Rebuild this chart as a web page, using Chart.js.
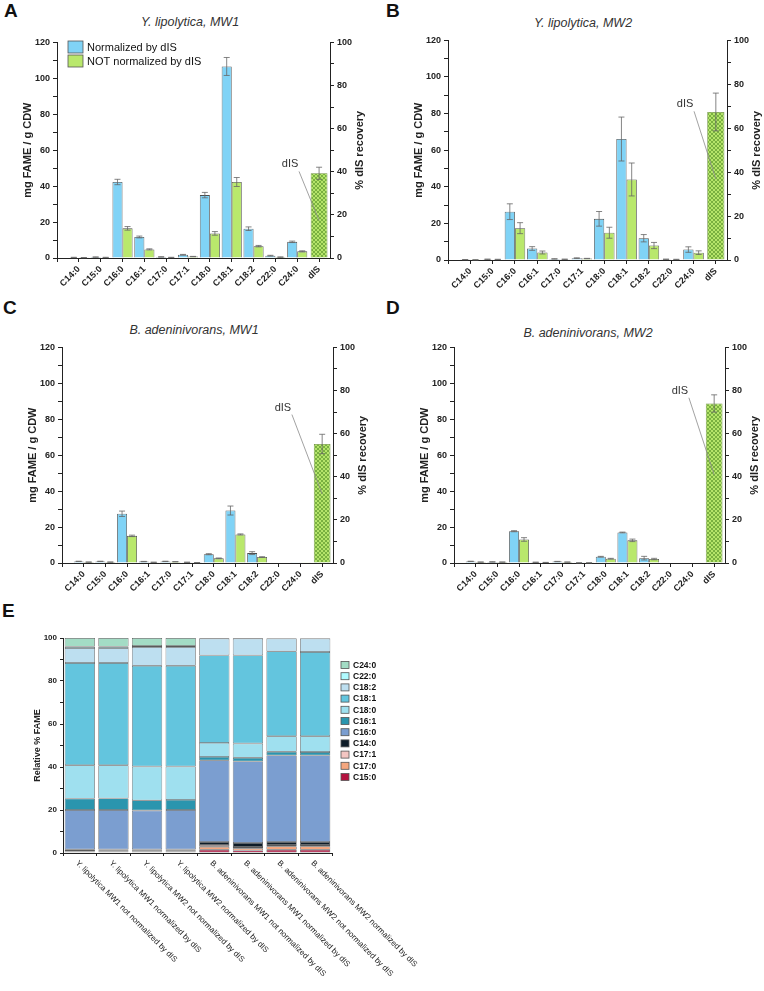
<!DOCTYPE html>
<html>
<head>
<meta charset="utf-8">
<script src="https://cdn.jsdelivr.net/npm/chart.js@4.4.0/dist/chart.umd.min.js"></script>
<style>
  body { margin: 0; background: #fff; width: 764px; height: 991px; position: relative; overflow: hidden;
         font-family: "Liberation Sans", Arial, sans-serif; }
  .letter { position: absolute; font-weight: bold; font-size: 19px; line-height: 19px; color: #111; }
  .title { position: absolute; font-style: italic; font-size: 12.5px; line-height: 14px; color: #333;
           transform: translateX(-50%); white-space: nowrap; }
  canvas { position: absolute; }
</style>
</head>
<body>
<div class="letter" style="left:4px;top:1px">A</div>
<div class="letter" style="left:386px;top:1px">B</div>
<div class="letter" style="left:3px;top:298px">C</div>
<div class="letter" style="left:386px;top:298px">D</div>
<div class="letter" style="left:2px;top:601px">E</div>

<div class="title" style="left:190px;top:15px">Y. lipolytica, MW1</div>
<div class="title" style="left:583px;top:16px">Y. lipolytica, MW2</div>
<div class="title" style="left:194px;top:323px">B. adeninivorans, MW1</div>
<div class="title" style="left:588px;top:326px">B. adeninivorans, MW2</div>

<canvas id="cA" width="378" height="262" style="left:0;top:34px"></canvas>
<canvas id="cB" width="382" height="266" style="left:382px;top:32px"></canvas>
<canvas id="cC" width="378" height="262" style="left:0;top:339px"></canvas>
<canvas id="cD" width="382" height="262" style="left:382px;top:339px"></canvas>
<canvas id="cE" width="460" height="366" style="left:0;top:625px"></canvas>

<script>
// ---- data ----
const acids = ['C14:0', 'C15:0', 'C16:0', 'C16:1', 'C17:0', 'C17:1', 'C18:0', 'C18:1', 'C18:2', 'C22:0', 'C24:0'];
const xLabels = [...acids, 'dIS'];
const seriesNames = ['Normalized by dIS', 'NOT normalized by dIS'];

// A: Y. lipolytica, MW1
const normA = [0.3, 0.5, 42.3, 11.7, 0.6, 1.8, 35.0, 106.6, 16.3, 1.3, 9.0];
const normAErr = [0.1, 0.1, 1.5, 0.5, 0.1, 0.2, 1.5, 5.0, 1.0, 0.2, 0.4];
const notNormA = [0.2, 0.3, 16.5, 4.8, 0.3, 0.8, 13.7, 42.3, 6.6, 0.5, 3.7];
const notNormAErr = [0.05, 0.1, 1.0, 0.3, 0.1, 0.1, 1.0, 2.5, 0.4, 0.1, 0.3];

// B: Y. lipolytica, MW2
const normB = [0.2, 0.4, 26.4, 6.3, 0.6, 1.0, 22.5, 66.1, 11.9, 0.4, 5.7];
const normBErr = [0.05, 0.1, 4.3, 1.0, 0.1, 0.2, 4.0, 12.0, 2.0, 0.1, 1.5];
const notNormB = [0.1, 0.3, 17.4, 4.1, 0.4, 0.8, 14.9, 44.0, 7.9, 0.3, 4.0];
const notNormBErr = [0.05, 0.1, 3.0, 0.8, 0.1, 0.1, 3.0, 9.0, 1.7, 0.1, 1.0];

// C: B. adeninivorans, MW1
const normC = [0.9, 0.9, 27.4, 0.8, 0.9, 0.4, 4.9, 29.2, 5.5, 0, 0.1];
const normCErr = [0.1, 0.1, 1.5, 0.1, 0.1, 0.05, 0.3, 2.5, 0.8, 0, 0];
const notNormC = [0.5, 0.5, 15.1, 0.4, 0.7, 0.2, 2.6, 15.9, 3.3, 0, 0.1];
const notNormCErr = [0.05, 0.05, 0.4, 0.05, 0.05, 0.05, 0.2, 0.3, 0.2, 0, 0];

// D: B. adeninivorans, MW2
const normD = [0.9, 0.6, 17.7, 0.4, 0.8, 0.1, 3.5, 17.0, 2.7, 0, 0];
const normDErr = [0.1, 0.1, 0.3, 0.05, 0.1, 0.02, 0.2, 0.2, 1.0, 0, 0];
const notNormD = [0.5, 0.5, 13.1, 0.3, 0.5, 0.1, 2.4, 12.6, 2.2, 0, 0];
const notNormDErr = [0.05, 0.05, 1.0, 0.05, 0.05, 0.02, 0.2, 0.7, 0.4, 0, 0];

// % dIS recovery (A, B, C, D)
const recovery = [39.3, 67.4, 55.2, 74.0];
const recoveryErr = [2.8, 8.6, 4.5, 4.0];

// E: relative % FAME
const samples = [
  'Y. lipolytica MW1 not normalized by dIS', 'Y. lipolytica MW1 normalized by dIS',
  'Y. lipolytica MW2 not normalized by dIS', 'Y. lipolytica MW2 normalized by dIS',
  'B. adeninivorans MW1 not normalized by dIS', 'B. adeninivorans MW1 normalized by dIS',
  'B. adeninivorans MW2 not normalized by dIS', 'B. adeninivorans MW2 normalized by dIS'
];
const stackOrder = ['C15:0', 'C17:0', 'C17:1', 'C14:0', 'C16:0', 'C16:1', 'C18:0', 'C18:1', 'C18:2', 'C22:0', 'C24:0'];
const relC15_0 = [0.4, 0.4, 0.4, 0.4, 1.5, 1.2, 1.5, 1.5];
const relC17_0 = [0.3, 0.3, 0.3, 0.3, 1.4, 1.0, 1.6, 1.6];
const relC17_1 = [0.7, 0.6, 0.6, 0.6, 0.8, 0.6, 0.6, 0.6];
const relC14_0 = [0.3, 0.3, 0.3, 0.3, 1.4, 1.9, 1.4, 1.4];
const relC16_0 = [18.3, 18.4, 18.2, 18.4, 38.0, 37.9, 40.3, 40.3];
const relC16_1 = [5.3, 5.4, 4.7, 4.7, 1.6, 1.7, 1.7, 1.6];
const relC18_0 = [15.5, 15.4, 15.7, 15.5, 6.5, 6.6, 7.2, 7.3];
const relC18_1 = [47.6, 47.6, 46.9, 46.9, 40.7, 41.0, 39.5, 39.2];
const relC18_2 = [6.9, 6.9, 8.7, 8.7, 7.8, 7.8, 6.0, 6.3];
const relC22_0 = [0.7, 0.7, 0.5, 0.5, 0, 0, 0, 0];
const relC24_0 = [4.0, 4.0, 3.7, 3.7, 0.3, 0.3, 0.2, 0.2];
const relValues = [relC15_0, relC17_0, relC17_1, relC14_0, relC16_0, relC16_1, relC18_0, relC18_1, relC18_2, relC22_0, relC24_0];
const stackColors = ['#b3123f', '#f5a77f', '#f4c6c2', '#0e1c28', '#7b9ed0', '#2a95ae', '#9fe0ef', '#63c5de', '#bddff0', '#b0fbff', '#a3dcc5'];

// ---- styling ----
const FONT = '"Liberation Sans", Arial, sans-serif';
Chart.defaults.font.family = FONT;
Chart.defaults.color = '#222';
const blue = '#80d3f6', green = '#b9e86c', edge = '#4d4d4d';

// ---- plugins ----
const axisTitles = {
  id: 'axisTitles',
  afterDraw(chart, args, o) {
    if (!o.left && !o.right) return;
    const { ctx, chartArea } = chart;
    const cy = (chartArea.top + chartArea.bottom) / 2;
    ctx.save();
    ctx.font = o.font;
    ctx.fillStyle = '#222';
    ctx.textAlign = 'center';
    ctx.textBaseline = 'middle';
    [[o.left, chartArea.left - o.offsetL], [o.right, chartArea.right + o.offsetR]].forEach(([t, x]) => {
      if (!t) return;
      ctx.save();
      ctx.translate(x, cy);
      ctx.rotate(-Math.PI / 2);
      ctx.fillText(t, 0, 0);
      ctx.restore();
    });
    ctx.restore();
  }
};

const errorBars = {
  id: 'errorBars',
  afterDatasetsDraw(chart) {
    const ctx = chart.ctx;
    chart.data.datasets.forEach((ds, di) => {
      if (!ds.errors) return;
      const meta = chart.getDatasetMeta(di);
      const ys = chart.scales[meta.yAxisID];
      ctx.save();
      ctx.strokeStyle = '#666';
      ctx.lineWidth = 0.8;
      meta.data.forEach((bar, i) => {
        const v = ds.data[i].y, e = ds.errors[i];
        if (!e) return;
        const top = ys.getPixelForValue(v + e);
        const bot = ys.getPixelForValue(Math.max(0, v - e));
        const cap = 3;
        ctx.beginPath();
        ctx.moveTo(bar.x, top); ctx.lineTo(bar.x, bot);
        ctx.moveTo(bar.x - cap, top); ctx.lineTo(bar.x + cap, top);
        ctx.moveTo(bar.x - cap, bot); ctx.lineTo(bar.x + cap, bot);
        ctx.stroke();
      });
      ctx.restore();
    });
  }
};

const dISNote = {
  id: 'dISNote',
  afterDatasetsDraw(chart, args, o) {
    if (o.x == null) return;
    const { ctx, scales } = chart;
    const bar = chart.getDatasetMeta(2).data[0];
    const tx = scales.x.getPixelForValue(o.x);
    const ty = scales.y2.getPixelForValue(o.y);
    ctx.save();
    ctx.font = '11px ' + FONT;
    ctx.fillStyle = '#333';
    ctx.textAlign = 'center';
    ctx.textBaseline = 'middle';
    ctx.fillText(chart.data.datasets[2].label, tx, ty);
    ctx.strokeStyle = '#8a8a8a';
    ctx.lineWidth = 0.8;
    ctx.beginPath();
    ctx.moveTo(tx + 9, ty + 7);
    ctx.lineTo(bar.x, scales.y2.getPixelForValue(o.end));
    ctx.stroke();
    ctx.restore();
  }
};

const boxLegend = {
  id: 'boxLegend',
  afterDraw(chart, args, o) {
    if (!o.items) return;
    const ctx = chart.ctx;
    ctx.save();
    ctx.font = o.font;
    ctx.textBaseline = 'middle';
    ctx.textAlign = 'left';
    o.items.forEach((di, k) => {
      const ds = chart.data.datasets[di];
      const y = o.y + k * o.step;
      ctx.fillStyle = ds.backgroundColor;
      ctx.fillRect(o.x, y - o.bh / 2, o.bw, o.bh);
      ctx.strokeStyle = '#555';
      ctx.lineWidth = 0.8;
      ctx.strokeRect(o.x, y - o.bh / 2, o.bw, o.bh);
      ctx.fillStyle = '#111';
      ctx.fillText(ds.label, o.x + o.bw + o.gap, y + 0.5);
    });
    ctx.restore();
  }
};

const slantLabels = {
  id: 'slantLabels',
  afterDraw(chart, args, o) {
    if (!o.labels) return;
    const { ctx, scales: { x } } = chart;
    ctx.save();
    ctx.font = o.font;
    ctx.fillStyle = '#1a1a1a';
    ctx.textAlign = 'left';
    ctx.textBaseline = 'middle';
    o.labels.forEach((t, i) => {
      ctx.save();
      ctx.translate(x.getPixelForTick(i) - 3, x.top + 9);
      ctx.rotate(Math.PI / 4);
      ctx.fillText(t, 0, 0);
      ctx.restore();
    });
    ctx.restore();
  }
};

Chart.register(axisTitles, errorBars, dISNote, boxLegend, slantLabels);

function hatch(ctx) {
  const c = document.createElement('canvas');
  c.width = c.height = 4;
  const g = c.getContext('2d');
  g.fillStyle = '#b5e46a';
  g.fillRect(0, 0, 4, 4);
  g.strokeStyle = '#5f9a2e';
  g.lineWidth = 0.7;
  g.beginPath();
  g.moveTo(0, 0); g.lineTo(4, 4);
  g.moveTo(4, 0); g.lineTo(0, 4);
  g.stroke();
  return ctx.createPattern(c, 'repeat');
}

const tickFont = { size: 9, weight: 'bold' };

function makePanel(id, p) {
  const ctx = document.getElementById(id).getContext('2d');
  const pts = arr => arr.map((y, x) => ({ x, y }));
  const axisCommon = {
    border: { color: '#222', width: 1 },
    grid: { drawOnChartArea: false, tickLength: 4, color: '#222' }
  };
  return new Chart(ctx, {
    type: 'bar',
    data: {
      datasets: [
        { label: seriesNames[0], data: pts(p.norm), errors: p.normErr, backgroundColor: blue,
          borderColor: edge, borderWidth: 0.8, yAxisID: 'y', categoryPercentage: 0.92, barPercentage: 1 },
        { label: seriesNames[1], data: pts(p.notNorm), errors: p.notNormErr, backgroundColor: green,
          borderColor: edge, borderWidth: 0.8, yAxisID: 'y', categoryPercentage: 0.92, barPercentage: 1 },
        { label: 'dIS', data: [{ x: acids.length, y: p.rec }], errors: [p.recErr], backgroundColor: hatch(ctx),
          borderColor: '#6b8f3a', borderWidth: 0.8, yAxisID: 'y2', grouped: false,
          categoryPercentage: 1, barPercentage: 0.77 }
      ]
    },
    options: {
      responsive: false,
      animation: false,
      layout: { padding: { top: 5, left: 0, right: 0, bottom: 0 } },
      plugins: {
        legend: { display: false },
        tooltip: { enabled: false },
        axisTitles: { left: 'mg FAME / g CDW', right: '% dIS recovery', font: 'bold 11px ' + FONT, offsetL: 29, offsetR: 30 },
        dISNote: p.note,
        boxLegend: p.legend || {}
      },
      scales: {
        x: {
          type: 'linear', min: -1, max: 11.5, offset: false,
          afterFit: s => { s.height = p.xh; },
          border: { color: '#222', width: 1 },
          grid: { drawOnChartArea: false, tickLength: 4, color: '#222', offset: false },
          ticks: {
            stepSize: 1, includeBounds: false, autoSkip: false, minRotation: 45, maxRotation: 45,
            padding: 2, font: { size: 9, weight: 'bold' }, color: '#222',
            callback: v => (Number.isInteger(v) && xLabels[v]) ? xLabels[v] : ''
          }
        },
        y: {
          ...axisCommon, position: 'left', min: 0, max: 120,
          afterFit: s => { s.width = p.lw; },
          ticks: { stepSize: 10, autoSkip: false, font: tickFont, color: '#222', padding: 3,
                   callback: v => v % 20 === 0 ? v : '' }
        },
        y2: {
          ...axisCommon, position: 'right', min: 0, max: 100,
          afterFit: s => { s.width = p.rw; },
          ticks: { stepSize: 10, autoSkip: false, font: tickFont, color: '#222', padding: 3,
                   callback: v => v % 20 === 0 ? v : '' }
        }
      }
    }
  });
}

makePanel('cA', { norm: normA, normErr: normAErr, notNorm: notNormA, notNormErr: notNormAErr,
  rec: recovery[0], recErr: recoveryErr[0], lw: 57, rw: 48, xh: 38,
  note: { x: 9.67, y: 43.4, end: 17.4 },
  legend: { items: [0, 1], x: 68, y: 13, step: 14, bw: 15, bh: 12, gap: 4, font: '11px ' + FONT } });
makePanel('cB', { norm: normB, normErr: normBErr, notNorm: notNormB, notNormErr: notNormBErr,
  rec: recovery[1], recErr: recoveryErr[1], lw: 66, rw: 37, xh: 38,
  note: { x: 9.62, y: 70.9, end: 36.8 } });
makePanel('cC', { norm: normC, normErr: normCErr, notNorm: notNormC, notNormErr: notNormCErr,
  rec: recovery[2], recErr: recoveryErr[2], lw: 62, rw: 45, xh: 38,
  note: { x: 9.19, y: 72.1, end: 32 } });
makePanel('cD', { norm: normD, normErr: normDErr, notNorm: notNormD, notNormErr: notNormDErr,
  rec: recovery[3], recErr: recoveryErr[3], lw: 72, rw: 39, xh: 38,
  note: { x: 9.42, y: 79.9, end: 41 } });

// ---- E: stacked composition ----
new Chart(document.getElementById('cE'), {
  type: 'bar',
  data: {
    labels: samples,
    datasets: stackOrder.map((name, i) => ({
      label: name, data: relValues[i], backgroundColor: stackColors[i],
      borderColor: '#5a5a5a', borderWidth: 0.7, borderSkipped: false,
      categoryPercentage: 0.9, barPercentage: 1
    }))
  },
  options: {
    responsive: false,
    animation: false,
    layout: { padding: { top: 13, left: 0, right: 128, bottom: 0 } },
    plugins: {
      legend: { display: false },
      tooltip: { enabled: false },
      axisTitles: { left: 'Relative % FAME', font: 'bold 9px ' + FONT, offsetL: 25 },
      boxLegend: { items: stackOrder.map((_, i) => stackOrder.length - 1 - i), x: 341, y: 40, step: 11.2,
                   bw: 8, bh: 7, gap: 4, font: 'bold 8.5px ' + FONT },
      slantLabels: { labels: samples, font: '8px ' + FONT }
    },
    scales: {
      x: {
        stacked: true,
        afterFit: s => { s.height = 138; },
        border: { color: '#222', width: 1 },
        grid: { drawOnChartArea: false, tickLength: 3, color: '#222' },
        ticks: { display: false }
      },
      y: {
        stacked: true, min: 0, max: 100,
        afterFit: s => { s.width = 63; },
        border: { color: '#222', width: 1 },
        grid: { drawOnChartArea: false, tickLength: 3, color: '#222' },
        ticks: { stepSize: 10, autoSkip: false, font: { size: 8, weight: 'bold' }, color: '#222', padding: 3,
                 callback: v => v % 20 === 0 ? v : '' }
      }
    }
  }
});
</script>
</body>
</html>
